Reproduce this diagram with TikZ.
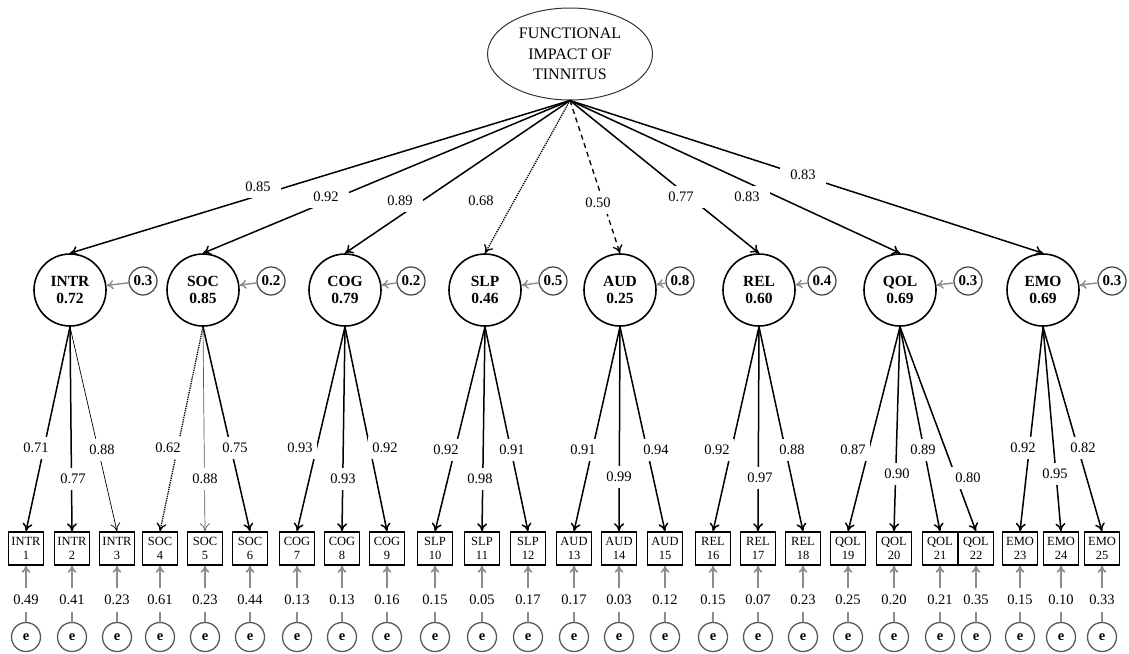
\documentclass[tikz,border=0pt]{standalone}
\usepackage{fontspec}
\setmainfont{Liberation Serif}
\usetikzlibrary{arrows.meta,shapes.geometric}
\begin{document}
\begin{tikzpicture}[x=1pt,y=-1pt,
  fac/.style={circle,draw,line width=1.6pt,minimum size=72pt,inner sep=0pt,align=center,font=\fontsize{15.5}{17.5}\selectfont\bfseries},
  res/.style={circle,draw=black!75,line width=1.2pt,minimum size=28pt,inner sep=0pt,font=\fontsize{15}{16}\selectfont\bfseries},
  ind/.style={rectangle,draw,line width=1.5pt,minimum width=35pt,minimum height=33pt,inner sep=0pt,align=center,font=\fontsize{12.5}{14.5}\selectfont},
  err/.style={circle,draw=black!65,line width=1.3pt,minimum size=29pt,inner sep=0pt,font=\fontsize{14.5}{16}\selectfont\bfseries},
  lab/.style={fill=white,inner xsep=4pt,inner ysep=6pt,font=\fontsize{14.5}{16}\selectfont},
  tlab/.style={lab,inner xsep=10pt},
  tip/.style={-{To[length=8pt,width=10pt]}},
  thick load/.style={tip,line width=1.5pt},
  thin load/.style={tip,line width=0.7pt},
  grey load/.style={tip,line width=0.7pt,draw=black!65},
  dot load/.style={tip,line width=1.3pt,densely dotted},
  dash load/.style={tip,line width=1.3pt,dash pattern=on 5pt off 4pt},
  garrow/.style={-{To[length=7pt,width=9pt]},line width=1.8pt,draw=black!45}
]
\useasboundingbox (0,0) rectangle (1129,653);

% top latent
\node[ellipse,draw=black!80,line width=1pt,minimum width=165pt,minimum height=92pt,inner sep=0pt,align=center,font=\fontsize{16}{20.5}\selectfont] (top) at (570,54) {FUNCTIONAL\\IMPACT OF\\TINNITUS};

% factors with residuals
\foreach \n/\x/\t/\v/\rx/\rv in {intr/70/INTR/0.72/143/0.3, soc/203/SOC/0.85/271/0.2, cog/345/COG/0.79/411/0.2, slp/485/SLP/0.46/553/0.5, aud/620/AUD/0.25/680/0.8, rel/759/REL/0.60/822/0.4, qol/900/QOL/0.69/968/0.3, emo/1043/EMO/0.69/1112/0.3}{
  \node[fac] (\n) at (\x,290) {\t\\\v};
  \node[res] (\n r) at (\rx,281) {\rv};
  \draw[garrow,line width=1.4pt] (\n r) -- (\n);
}

% second-order loadings
\foreach \n/\s in {intr/thick load, soc/thick load, cog/thick load, slp/dot load, aud/dash load, rel/thick load, qol/thick load, emo/thick load}{
  \draw[\s] (top.south) -- (\n.north);
}
\foreach \lx/\ly/\v in {258/187/0.85, 326/197/0.92, 400/201/0.89, 481/201/0.68, 598/203/0.50, 681/197/0.77, 747/197/0.83, 803/175/0.83}{
  \node[tlab] at (\lx,\ly) {\v};
}

% indicators with errors
\foreach \i/\x/\t/\ev in {1/26/INTR/0.49, 2/72/INTR/0.41, 3/117/INTR/0.23, 4/160/SOC/0.61, 5/205/SOC/0.23, 6/250/SOC/0.44, 7/297/COG/0.13, 8/342/COG/0.13, 9/387/COG/0.16, 10/435/SLP/0.15, 11/482/SLP/0.05, 12/528/SLP/0.17, 13/574/AUD/0.17, 14/619/AUD/0.03, 15/665/AUD/0.12, 16/713/REL/0.15, 17/758/REL/0.07, 18/803/REL/0.23, 19/848/QOL/0.25, 20/894/QOL/0.20, 21/940/QOL/0.21, 22/976/QOL/0.35, 23/1020/EMO/0.15, 24/1061/EMO/0.10, 25/1102/EMO/0.33}{
  \node[ind] (b\i) at (\x,548.5) {\t\\\i};
  \node[err] (e\i) at (\x,637) {e};
  \draw[garrow] (e\i) -- (b\i);
  \node[lab,inner ysep=7pt] at (\x,600) {\ev};
}

% first-order loadings
\foreach \f/\i/\s in {intr/1/thick load, intr/2/thick load, intr/3/thin load, soc/4/dot load, soc/5/grey load, soc/6/thick load, cog/7/thick load, cog/8/thick load, cog/9/thick load, slp/10/thick load, slp/11/thick load, slp/12/thick load, aud/13/thick load, aud/14/thick load, aud/15/thick load, rel/16/thick load, rel/17/thick load, rel/18/thick load, qol/19/thick load, qol/20/thick load, qol/21/thick load, qol/22/thick load, emo/23/thick load, emo/24/thick load, emo/25/thick load}{
  \draw[\s] (\f.south) -- (b\i.north);
}
\foreach \lx/\ly/\v in {36/448/0.71, 73/479/0.77, 102/450/0.88, 168/448/0.62, 205/479/0.88, 235/448/0.75, 300/448/0.93, 343/479/0.93, 385/448/0.92, 446/450/0.92, 480/479/0.98, 512/450/0.91, 583/450/0.91, 619/477/0.99, 656/450/0.94, 717/450/0.92, 760/478/0.97, 792/450/0.88, 853/450/0.87, 897/474/0.90, 923/450/0.89, 968/478/0.80, 1023/448/0.92, 1055/474/0.95, 1083/448/0.82}{
  \node[lab] at (\lx,\ly) {\v};
}
\end{tikzpicture}
\end{document}
